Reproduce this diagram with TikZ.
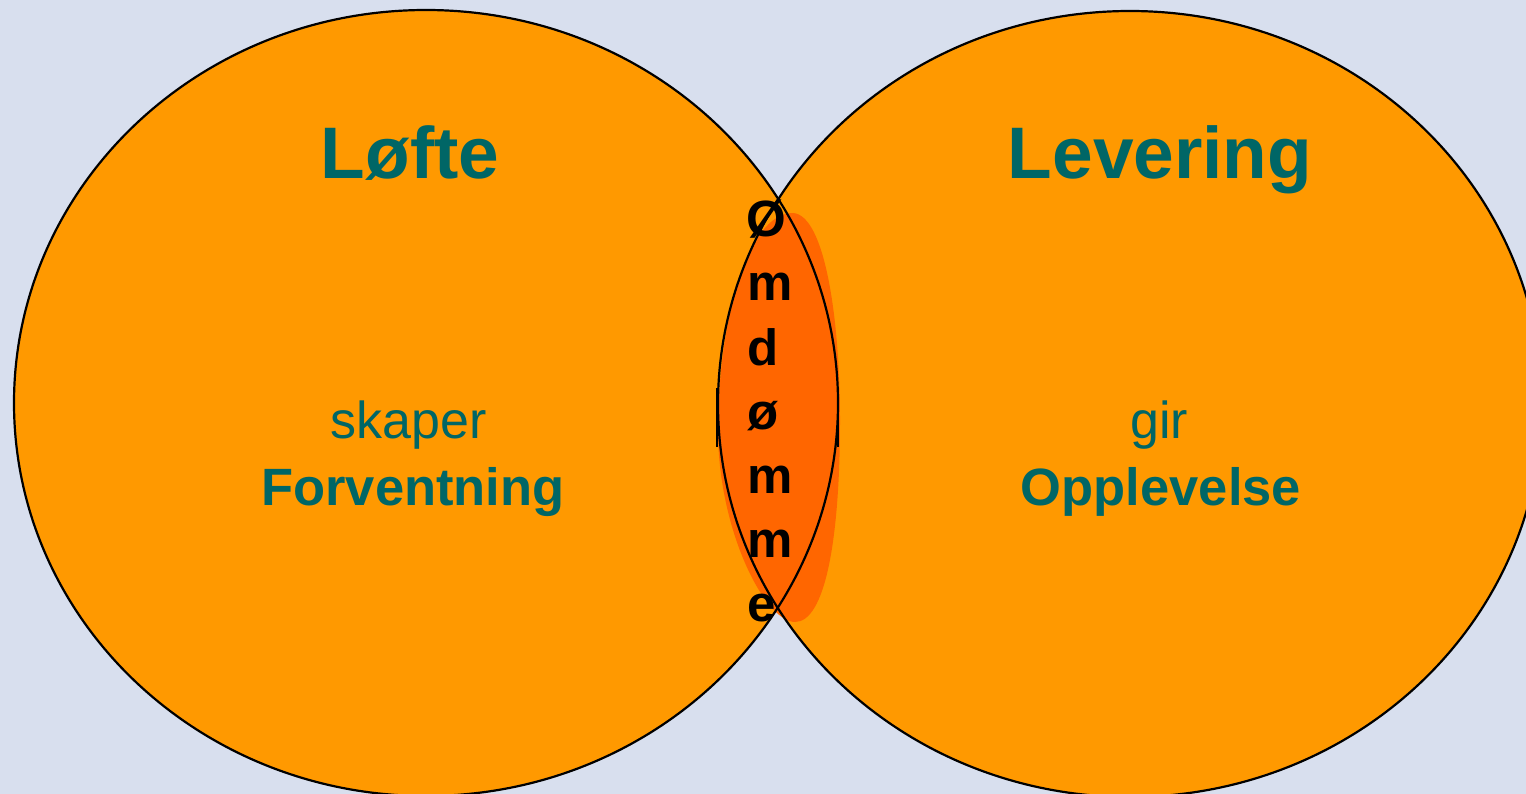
\documentclass[tikz,border=0pt]{standalone}
\usepackage{fontspec}
\setmainfont{Liberation Sans}
\definecolor{bgcol}{HTML}{D8DFEE}
\definecolor{orangefill}{HTML}{FF9900}
\definecolor{lensfill}{HTML}{FF6600}
\definecolor{tealtext}{HTML}{006666}
\tikzset{
  outline/.style={draw=black, line width=2.2pt},
  title/.style={anchor=base, inner sep=0pt, text=tealtext, font=\bfseries\fontsize{73}{80}\selectfont},
  verb/.style={anchor=base, inner sep=0pt, text=tealtext, font=\fontsize{52}{58}\selectfont},
  noun/.style={anchor=base, inner sep=0pt, text=tealtext, font=\bfseries\fontsize{52.5}{58}\selectfont},
  letter/.style={anchor=base west, inner sep=0pt, text=black, font=\bfseries\fontsize{51}{56}\selectfont},
  tick/.style={draw=black, line width=2.6pt}
}
\begin{document}
\begin{tikzpicture}[x=1pt,y=-1pt]
\useasboundingbox (0,0) rectangle (1526,794);
\fill[bgcol] (0,0) rectangle (1526,794);
% fills
\fill[orangefill] (426,403) ellipse [x radius=412pt, y radius=393pt];
\fill[orangefill] (1130,404) ellipse [x radius=412pt, y radius=393pt];
\fill[lensfill] (793,213) .. controls (825,215) and (840,320) .. (840,420)
  .. controls (840,540) and (825,622) .. (795,622)
  .. controls (765,622) and (718,530) .. (718,430)
  .. controls (718,330) and (745,213) .. (793,213) -- cycle;
% outlines
\draw[outline] (426,403) ellipse [x radius=412pt, y radius=393pt];
\draw[outline] (1130,404) ellipse [x radius=412pt, y radius=393pt];
\draw[tick] (717,388) -- (717,447);
\draw[tick] (838,388) -- (838,447);
% texts
\node[title] (loefte) at (410,179) {Løfte};
\node[title] (levering) at (1160,179) {Levering};
\node[verb] (skaper) at (409,438) {skaper};
\node[noun] (forv) at (413,505) {Forventning};
\node[verb] (gir) at (1159,438) {gir};
\node[noun] (oppl) at (1161,505) {Opplevelse};
\node[letter] (l1) at (746,237) {Ø};
\node[letter] (l2) at (747,301) {m};
\node[letter] (l3) at (747,365) {d};
\node[letter] (l4) at (747,429) {ø};
\node[letter] (l5) at (747,493) {m};
\node[letter] (l6) at (747,557) {m};
\node[letter] (l7) at (747,621) {e};
\end{tikzpicture}
\end{document}
